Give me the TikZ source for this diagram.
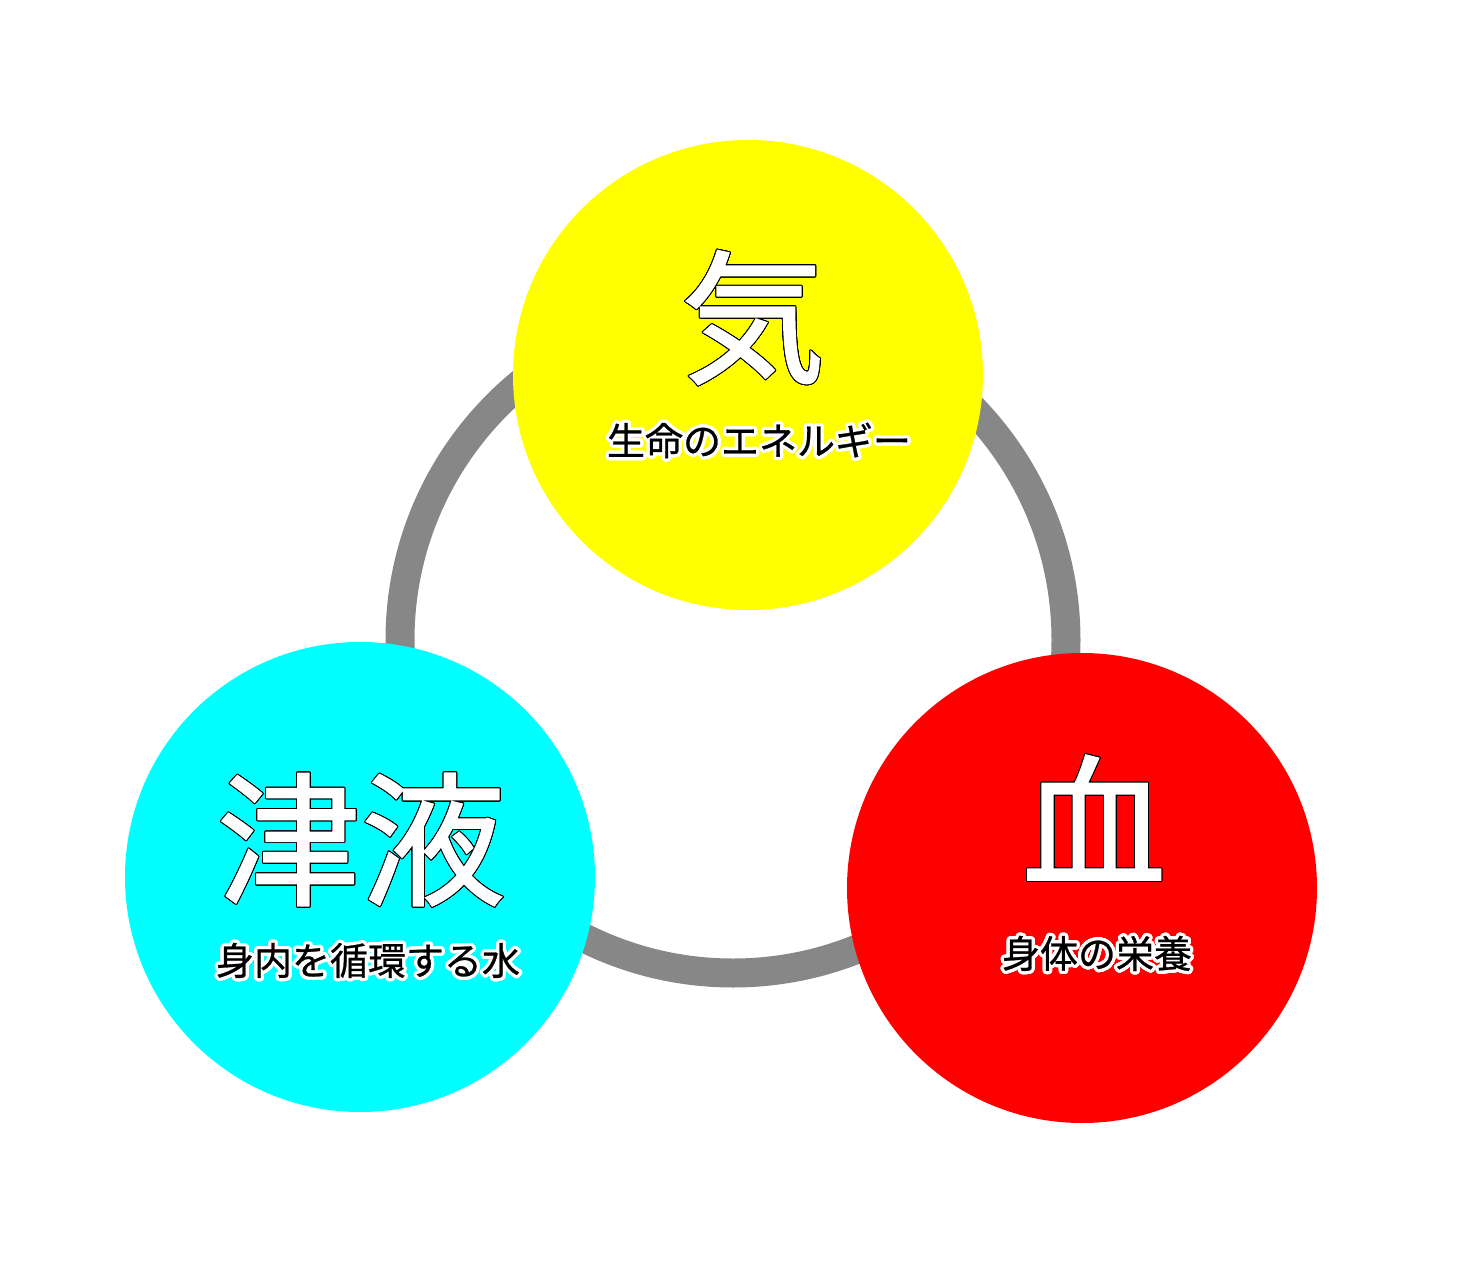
\documentclass[tikz,border=0pt]{standalone}
\usepackage{fontspec}
\newfontfamily\jpdick[FakeBold=1.2]{Noto Sans CJK JP}
\newfontfamily\jphalb[FakeBold=0.7]{Noto Sans CJK JP}
\usepackage{contour}
\contournumber{32}
\definecolor{gelb}{HTML}{FFFF00}
\definecolor{tuerkis}{HTML}{00FFFF}
\definecolor{rot}{HTML}{FF0000}
\definecolor{ringgrau}{HTML}{878787}
\newcommand{\umriss}[1]{\contourlength{0.45pt}\contour{black}{#1}}
\newcommand{\halo}[1]{\contourlength{1.6pt}\contour{white}{#1}}

\begin{document}
\begin{tikzpicture}[x=0.5pt, y=-0.5pt,
        kreis/.style={circle, inner sep=0pt, minimum size=235pt},
        gross/.style={font=\jpdick\fontsize{72}{72}\selectfont, text=white, inner sep=0pt},
        klein/.style={font=\jphalb\fontsize{19}{20}\selectfont, text=black, inner sep=0pt}]
        % Umgebung
        \useasboundingbox (0, 0) rectangle (1480, 1280);

        % Ring
        \draw[ringgrau, line width=14.5pt] (733, 640) circle[radius=333];

        % Kreise
        \node[kreis, fill=gelb] (qi) at (748, 375) {};
        \node[kreis, fill=tuerkis] (jineki) at (360, 877) {};
        \node[kreis, fill=rot] (ketsu) at (1082, 888) {};

        % Texte
        \node[gross] (qiname) at (753, 318) {\umriss{気}};
        \node[klein] (qitext) at (759, 442) {\halo{生命のエネルギー}};
        \node[gross] (jinekiname) at (361, 840) {\umriss{津液}};
        \node[klein] (jinekitext) at (368, 962) {\halo{身内を循環する水}};
        \node[gross] (ketsuname) at (1094, 818) {\umriss{血}};
        \node[klein] (ketsutext) at (1097, 955) {\halo{身体の栄養}};

    \end{tikzpicture}
\end{document}
